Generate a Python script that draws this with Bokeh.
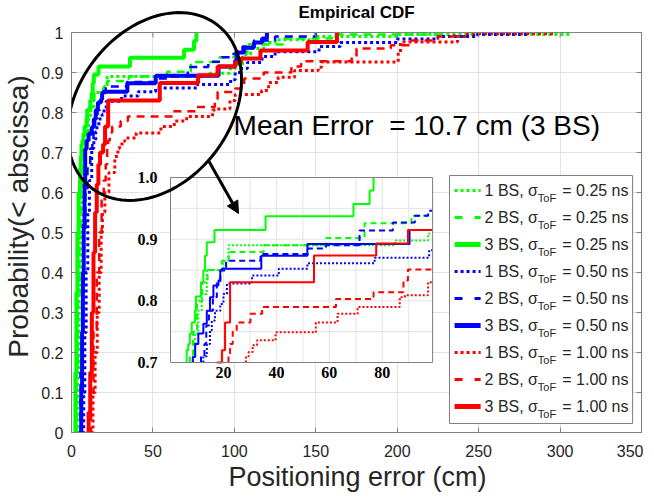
import math
from bokeh.plotting import figure
from bokeh.models import Range1d, FixedTicker, Arrow, NormalHead, PolyAnnotation
from bokeh.core.properties import value
from bokeh.embed import file_html
from bokeh.resources import INLINE

# ---------------------------------------------------------------- data
x_ticks = [0, 50, 100, 150, 200, 250, 300, 350]
y_ticks = [0, 0.1, 0.2, 0.3, 0.4, 0.5, 0.6, 0.7, 0.8, 0.9, 1]
y_tick_labels = ["0", "0.1", "0.2", "0.3", "0.4", "0.5", "0.6", "0.7", "0.8", "0.9", "1"]
x_lim = [0, 350]
y_lim = [0, 1]

inset_x_ticks = [20, 40, 60, 80]
inset_x_tick_labels = ["20", "40", "60", "80"]
inset_y_ticks = [0.7, 0.8, 0.9, 1.0]
inset_y_tick_labels = ["0.7", "0.8", "0.9", "1.0"]
inset_x_grid = [10, 20, 30, 40, 50, 60, 70, 80, 90]
inset_y_grid = [0.75, 0.8, 0.85, 0.9, 0.95]
inset_x_lim = [0, 99]
inset_y_lim = [0.7, 1.0]

num_bs = ["1 BS", "2 BS", "3 BS"]
sigma_tof = ["0.25", "0.50", "1.00"]
mean_error_cm = 10.7
mean_error_bs = "3 BS"
title_text = "Empirical CDF"

# empirical CDFs: error (cm) where the CDF steps, CDF value after the step
err_1bs_025 = [3.0, 3.8, 4.6, 5.5, 6.5, 7.5, 8.6, 9.2, 10.5, 11.8, 13.7, 20.0, 21.9, 84.7, 97.3,
               100.5, 105, 110, 118, 125, 150, 200, 306]
cdf_1bs_025 = [0.0, 0.15, 0.35, 0.5, 0.6, 0.66, 0.72, 0.747, 0.784, 0.811, 0.85, 0.865, 0.89, 0.898, 0.909,
               0.92, 0.945, 0.96, 0.975, 0.982, 0.99, 0.995, 1.0]

err_2bs_025 = [2.5, 3.2, 4.0, 4.8, 5.6, 6.5, 7.3, 8.5, 10.0, 12.0, 14.0, 19.4, 21.9, 35.2, 58.7, 73.3, 91.0,
               100.5, 108, 130, 160, 230]
cdf_2bs_025 = [0.0, 0.15, 0.35, 0.5, 0.6, 0.66, 0.71, 0.75, 0.8, 0.83, 0.85, 0.865, 0.879, 0.89, 0.902, 0.926,
               0.938, 0.95, 0.97, 0.985, 0.995, 1.0]

err_3bs_025 = [1.8, 2.4, 3.0, 3.6, 4.3, 5.2, 5.7, 6.1, 6.7, 7.3, 8.0, 9.2, 9.6, 11.5, 12.4, 13.0, 13.7, 16.6,
               35.9, 69.1, 75.2, 76.7]
cdf_3bs_025 = [0.0, 0.15, 0.35, 0.5, 0.6, 0.66, 0.69, 0.72, 0.73, 0.747, 0.765, 0.784, 0.807, 0.83, 0.849,
               0.873, 0.895, 0.915, 0.937, 0.957, 0.979, 1.0]

err_1bs_050 = [6.5, 7.5, 8.2, 9.0, 10.0, 11.0, 12.4, 13.7, 14.9, 15.6, 16.8, 18.8, 20.0, 21.3, 30.8, 40.9, 51.7,
               77.1, 97.7, 100.5, 104, 108, 117, 125, 152, 165, 200, 225, 249, 281]
cdf_1bs_050 = [0.0, 0.1, 0.25, 0.4, 0.55, 0.63, 0.71, 0.73, 0.752, 0.768, 0.784, 0.795, 0.811, 0.828, 0.841,
               0.852, 0.861, 0.870, 0.882, 0.9, 0.91, 0.925, 0.94, 0.952, 0.965, 0.975, 0.984, 0.99, 0.995, 1.0]

err_2bs_050 = [4.5, 5.5, 6.5, 7.5, 8.5, 9.8, 11.5, 12.8, 13.5, 14.5, 16.0, 17.5, 18.8, 21.0, 34.0, 52.0, 58.7,
               71.4, 84.0, 92.3, 97.3, 101, 105, 112, 125, 150]
cdf_2bs_050 = [0.0, 0.15, 0.35, 0.5, 0.6, 0.66, 0.71, 0.73, 0.76, 0.784, 0.806, 0.83, 0.849, 0.865, 0.876,
               0.885, 0.89, 0.914, 0.927, 0.938, 0.946, 0.955, 0.965, 0.98, 0.99, 1.0]

err_3bs_050 = [5.5, 6.0, 6.5, 7.0, 7.5, 8.0, 8.4, 9.3, 10.5, 12.4, 13.7, 14.9, 16.2, 18.1, 18.8, 19.4, 34.3,
               51.7, 90.3, 100.5, 101.5, 106, 112, 117, 120]
cdf_3bs_050 = [0.0, 0.1, 0.25, 0.4, 0.52, 0.62, 0.709, 0.73, 0.747, 0.763, 0.784, 0.806, 0.825, 0.833, 0.849,
               0.852, 0.873, 0.892, 0.915, 0.93, 0.95, 0.962, 0.975, 0.985, 1.0]

err_1bs_100 = [11.9, 13.2, 14.5, 15.8, 17.0, 18.2, 19.0, 20.5, 23.0, 26.6, 28.5, 29.5, 31.0, 32.7, 39.7, 54.9,
               63.1, 70.7, 86.6, 88.5, 97.3, 100.5, 116.7, 121, 126.9, 137, 151.5, 153.5, 200.6, 202, 237, 243, 297]
cdf_1bs_100 = [0.0, 0.1, 0.2, 0.3, 0.4, 0.5, 0.55, 0.6, 0.65, 0.69, 0.71, 0.717, 0.728, 0.736, 0.749, 0.765,
               0.779, 0.790, 0.806, 0.809, 0.830, 0.845, 0.855, 0.875, 0.888, 0.905, 0.913, 0.926, 0.95, 0.976,
               0.99, 0.997, 1.0]

err_2bs_100 = [10.5, 12.0, 13.5, 15.5, 17.0, 18.5, 19.8, 21.0, 21.9, 22.5, 23.5, 25.0, 30.2, 34.6, 62.5, 76.7,
               88.0, 89.7, 100.5, 106, 118, 135, 141, 172, 175, 196, 208, 225, 235]
cdf_2bs_100 = [0.0, 0.1, 0.25, 0.4, 0.5, 0.58, 0.63, 0.67, 0.71, 0.73, 0.75, 0.765, 0.779, 0.79, 0.803, 0.814,
               0.833, 0.851, 0.86, 0.885, 0.9, 0.915, 0.928, 0.94, 0.96, 0.968, 0.98, 0.99, 1.0]

err_3bs_100 = [9.5, 10.5, 11.5, 12.5, 13.5, 14.5, 15.5, 16.5, 17.5, 19.4, 20.6, 22.5, 54.2, 77.7, 89.7, 100.5,
               104, 116, 145, 163]
cdf_3bs_100 = [0.0, 0.05, 0.15, 0.3, 0.45, 0.55, 0.62, 0.67, 0.7, 0.72, 0.765, 0.83, 0.8735, 0.893, 0.915,
               0.925, 0.935, 0.955, 0.976, 1.0]

series = [
    (0, 0, err_1bs_025, cdf_1bs_025), (1, 0, err_2bs_025, cdf_2bs_025), (2, 0, err_3bs_025, cdf_3bs_025),
    (0, 1, err_1bs_050, cdf_1bs_050), (1, 1, err_2bs_050, cdf_2bs_050), (2, 1, err_3bs_050, cdf_3bs_050),
    (0, 2, err_1bs_100, cdf_1bs_100), (1, 2, err_2bs_100, cdf_2bs_100), (2, 2, err_3bs_100, cdf_3bs_100),
]

# ---------------------------------------------------------------- styles / layout
sigma_colors = ["#00ff00", "#0000ff", "#ff0000"]
main_styles = [dict(line_width=3, line_dash="3 3"), dict(line_width=2.5, line_dash="8 6"),
               dict(line_width=4, line_dash="solid")]
inset_styles = [dict(line_width=2, line_dash="2 2"), dict(line_width=2, line_dash="6 4"),
                dict(line_width=2, line_dash="solid")]
legend_styles = [dict(line_width=3, line_dash="3 3"), dict(line_width=3, line_dash="8 12"),
                 dict(line_width=5, line_dash="solid")]
FONT_NAME = "Liberation Sans"
FONT = value(FONT_NAME)
AX_COLOR = "#808080"
TXT_COLOR = "#262626"
GRID_COLOR = "#e3e3e3"

PX_X = 570 / 350          # pixels per cm
PX_Y = 400                # pixels per unit probability
X_END = 351.2             # a little room so the right box edge is fully visible
Y_END = 1.08              # room above the axes for the title and the ellipse
TICK_PX = 5

p = figure(frame_width=round(X_END * PX_X), frame_height=round(Y_END * PX_Y),
           x_range=Range1d(x_lim[0], X_END), y_range=Range1d(y_lim[0], Y_END),
           output_backend="svg", toolbar_location=None,
           min_border_left=0, min_border_right=0, min_border_top=0, min_border_bottom=0,
           background_fill_color="white", border_fill_color="white")
p.outline_line_color = None

xax = p.xaxis[0]
yax = p.yaxis[0]
xax.ticker = FixedTicker(ticks=x_ticks)
yax.ticker = FixedTicker(ticks=y_ticks)
xax.bounds = tuple(x_lim)
yax.bounds = tuple(y_lim)
yax.major_label_overrides = {t: s for t, s in zip(y_ticks, y_tick_labels)}
for ax in (xax, yax):
    ax.major_label_text_font = FONT_NAME
    ax.major_label_text_font_size = "16px"
    ax.major_label_text_color = TXT_COLOR
    ax.axis_line_color = AX_COLOR
    ax.major_tick_line_color = AX_COLOR
    ax.major_tick_in = TICK_PX
    ax.major_tick_out = 0
    ax.minor_tick_line_color = None
    ax.axis_label_text_font = FONT_NAME
    ax.axis_label_text_font_style = "normal"
    ax.axis_label_text_color = TXT_COLOR
xax.axis_label = "Positioning error (cm)"
yax.axis_label = "Probability(< abscissa)"
xax.axis_label_text_font_size = "27px"
yax.axis_label_text_font_size = "28px"
xax.major_label_standoff = 12
xax.axis_label_standoff = 2
yax.major_label_standoff = 8
yax.axis_label_standoff = 4
p.xgrid.ticker = FixedTicker(ticks=x_ticks)
p.ygrid.ticker = FixedTicker(ticks=y_ticks)
p.grid.grid_line_color = GRID_COLOR

# ---------------------------------------------------------------- main curves
for bi, si, xs, ys in series:
    p.step(xs, ys, mode="after", line_color=sigma_colors[si], **main_styles[bi])

# blank strip above the axes box (holds the title), then the box's top/right edges + inward ticks
p.quad(left=[x_lim[0]], right=[X_END], bottom=[y_lim[1]], top=[Y_END], fill_color="white", line_color=None)
p.segment(x0=[x_lim[0], x_lim[1]], y0=[y_lim[1], y_lim[0]], x1=[x_lim[1], x_lim[1]], y1=[y_lim[1], y_lim[1]],
          line_color=AX_COLOR, line_width=1)
p.segment(x0=[x_lim[1] - TICK_PX / PX_X] * len(y_ticks), x1=[x_lim[1]] * len(y_ticks), y0=y_ticks, y1=y_ticks,
          line_color=AX_COLOR, line_width=1)
p.segment(x0=x_ticks, x1=x_ticks, y0=[y_lim[1] - TICK_PX / PX_Y] * len(x_ticks), y1=[y_lim[1]] * len(x_ticks),
          line_color=AX_COLOR, line_width=1)
p.text(x=[(x_lim[0] + x_lim[1]) / 2], y=[y_lim[1] + 20 / PX_Y], text=[title_text], text_font=FONT,
       text_font_size="17px", text_font_style="bold", text_color="black", text_align="center",
       text_baseline="middle")

# ---------------------------------------------------------------- inset (placed via extra ranges)
inset_box = dict(x0=60.8, x1=221.7, y0=0.175, y1=0.6375)   # where the inset sits, in main data units
sx = (inset_x_lim[1] - inset_x_lim[0]) / (inset_box["x1"] - inset_box["x0"])
sy = (inset_y_lim[1] - inset_y_lim[0]) / (inset_box["y1"] - inset_box["y0"])
p.extra_x_ranges = {"ins": Range1d(inset_x_lim[0] - (inset_box["x0"] - x_lim[0]) * sx,
                                   inset_x_lim[0] + (X_END - inset_box["x0"]) * sx)}
p.extra_y_ranges = {"ins": Range1d(inset_y_lim[0] - (inset_box["y0"] - y_lim[0]) * sy,
                                   inset_y_lim[0] + (Y_END - inset_box["y0"]) * sy)}
INS = dict(x_range_name="ins", y_range_name="ins")

p.quad(left=[inset_x_lim[0]], right=[inset_x_lim[1]], bottom=[inset_y_lim[0]], top=[inset_y_lim[1]],
       fill_color="white", line_color=None, **INS)
p.segment(x0=inset_x_grid, x1=inset_x_grid, y0=[inset_y_lim[0]] * len(inset_x_grid),
          y1=[inset_y_lim[1]] * len(inset_x_grid), line_color=GRID_COLOR, line_width=1, **INS)
p.segment(x0=[inset_x_lim[0]] * len(inset_y_grid), x1=[inset_x_lim[1]] * len(inset_y_grid),
          y0=inset_y_grid, y1=inset_y_grid, line_color=GRID_COLOR, line_width=1, **INS)


def clip_to_inset(xs, ys):
    ox, oy = [], []
    for x, y in zip(xs, ys):
        if x > inset_x_lim[1]:
            break
        if y < inset_y_lim[0]:
            continue
        if not ox:
            ox.append(x)
            oy.append(inset_y_lim[0])
        ox.append(x)
        oy.append(y)
    if ox and ox[-1] < inset_x_lim[1] and oy[-1] < inset_y_lim[1]:
        ox.append(inset_x_lim[1])
        oy.append(oy[-1])
    return ox, oy


for bi, si, xs, ys in series:
    cx, cy = clip_to_inset(xs, ys)
    p.step(cx, cy, mode="after", line_color=sigma_colors[si], **inset_styles[bi], **INS)

p.quad(left=[inset_x_lim[0]], right=[inset_x_lim[1]], bottom=[inset_y_lim[0]], top=[inset_y_lim[1]],
       fill_color=None, line_color=AX_COLOR, line_width=1, **INS)
SERIF_B = dict(text_font=value("Liberation Serif"), text_font_style="bold", text_font_size="16px",
               text_color="black")
p.text(x=inset_x_ticks, y=[inset_y_lim[0]] * len(inset_x_ticks), text=inset_x_tick_labels,
       text_align="center", text_baseline="top", y_offset=4, **SERIF_B, **INS)
p.text(x=[inset_x_lim[0]] * len(inset_y_ticks), y=inset_y_ticks, text=inset_y_tick_labels,
       text_align="right", text_baseline="middle", x_offset=-13, **SERIF_B, **INS)

# ---------------------------------------------------------------- annotation text
p.text(x=[99.5], y=[0.7675], text=[f"Mean Error \u00a0= {mean_error_cm} cm ({mean_error_bs})"],
       text_font=FONT, text_font_size="28px", text_color="black", text_align="left", text_baseline="middle")

# ---------------------------------------------------------------- legend (drawn by hand for subscripts)
leg = dict(left=232.1, right=344.5, top=0.6425, bottom=0.0225, row0=0.605, step=0.0675,
           s0=235.2, s1=251.2, tx=253.6, sub=286.3, rhs=342.0)
p.quad(left=[leg["left"]], right=[leg["right"]], top=[leg["top"]], bottom=[leg["bottom"]],
       fill_color="white", line_color=AX_COLOR, line_width=1)
main_txt, sub_txt, rhs_txt, row_y = [], [], [], []
for k, (bi, si, xs, ys) in enumerate(series):
    yk = leg["row0"] - k * leg["step"]
    row_y.append(yk)
    p.line([leg["s0"], leg["s1"]], [yk, yk], line_color=sigma_colors[si], **legend_styles[bi])
    main_txt.append(f"{num_bs[bi]}, \u03c3")
    sub_txt.append("ToF")
    rhs_txt.append(f"= {sigma_tof[si]} ns")
n = len(row_y)
p.text(x=[leg["tx"]] * n, y=row_y, text=main_txt, text_font=FONT, text_font_size="16px",
       text_color=TXT_COLOR, text_align="left", text_baseline="middle")
p.text(x=[leg["sub"]] * n, y=row_y, text=sub_txt, text_font=FONT, text_font_size="11px",
       text_color=TXT_COLOR, text_align="left", text_baseline="middle", y_offset=7)
p.text(x=[leg["rhs"]] * n, y=row_y, text=rhs_txt, text_font=FONT, text_font_size="16px",
       text_color=TXT_COLOR, text_align="right", text_baseline="middle")

# ---------------------------------------------------------------- ellipse + arrow
ell = dict(cx=51.0, cy=0.815, a=103, b=76, angle=math.radians(52.5))
ex, ey = [], []
for i in range(121):
    t = 2 * math.pi * i / 120
    dx = ell["a"] * math.cos(t) * math.cos(ell["angle"]) - ell["b"] * math.sin(t) * math.sin(ell["angle"])
    dy = ell["a"] * math.cos(t) * math.sin(ell["angle"]) + ell["b"] * math.sin(t) * math.cos(ell["angle"])
    ex.append(ell["cx"] + dx / PX_X)
    ey.append(ell["cy"] + dy / PX_Y)
p.add_layout(PolyAnnotation(xs=ex, ys=ey, fill_color=None, fill_alpha=0, line_color="black",
                            line_alpha=1.0, line_width=3))
p.add_layout(Arrow(end=NormalHead(size=12, fill_color="black", line_color="black"),
                   x_start=84.1, y_start=0.68, x_end=102.5, y_end=0.5475,
                   line_color="black", line_width=3))

open("out.html", "w").write(file_html(p, INLINE))
